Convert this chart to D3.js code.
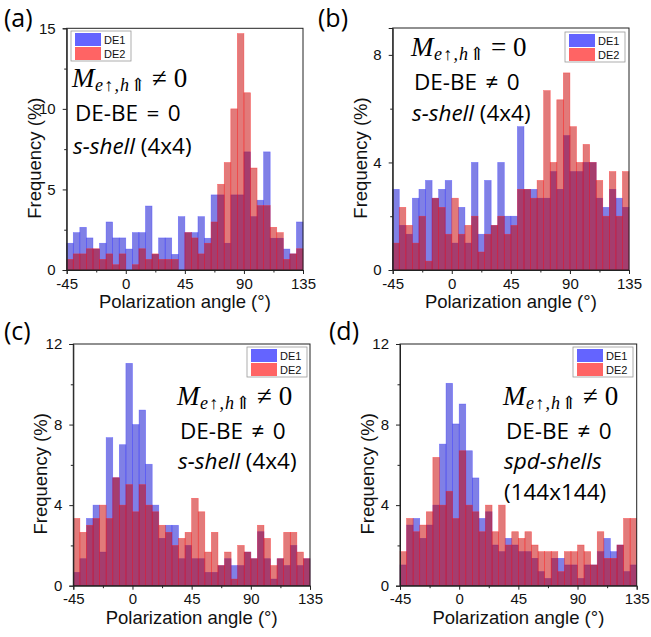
<!DOCTYPE html>
<html>
<head>
<meta charset="utf-8">
<script src="https://cdn.jsdelivr.net/npm/d3@7"></script>
<style>
  body { margin: 0; background: #fff; }
</style>
</head>
<body>
<svg id="fig" width="651" height="637"></svg>
<script>
// bin edges of the polarization angle histograms (deg)
const binEdges = [-45, -40, -35, -30, -25, -20, -15, -10, -5, 0, 5, 10, 15, 20, 25, 30, 35, 40,
  45, 50, 55, 60, 65, 70, 75, 80, 85, 90, 95, 100, 105, 110, 115, 120, 125, 130, 135];
const xTicks = [-45, 0, 45, 90, 135];
const xMinorTicks = [-22.5, 22.5, 67.5, 112.5];
const seriesNames = ["DE1", "DE2"];

// frequency (%) per bin
const aDE1 = [1.66, 2.32, 2.65, 1.99, 1.3, 1.66, 2.98, 1.99, 1.99, 1.3, 2.32, 2.32, 3.97, 0.97, 1.99, 1.99, 0.97, 3.31,
  2.32, 2.32, 3.31, 1.97, 4.66, 4.66, 1.66, 4.66, 4.66, 7.33, 3.31, 4.33, 7.33, 1.97, 1.97, 1.3, 1.0, 2.98];
const aDE2 = [0.66, 1.0, 1.0, 1.32, 1.32, 0.66, 1.0, 0.33, 1.0, 0, 0.33, 1.32, 0.66, 1.0, 0.66, 0.66, 0.66, 0,
  2.32, 1.99, 1.0, 1.66, 2.98, 5.32, 6.67, 10.0, 14.67, 11.0, 6.33, 4.0, 4.0, 2.65, 2.32, 0.66, 1.0, 1.32];

const bDE1 = [3.0, 1.66, 1.33, 2.67, 3.0, 3.33, 2.67, 3.0, 3.33, 1.0, 2.33, 1.0, 4.0, 1.33, 3.33, 1.66, 4.0, 2.0,
  2.0, 5.33, 3.0, 3.0, 2.67, 2.67, 3.66, 3.0, 5.0, 3.66, 3.66, 4.0, 4.0, 2.67, 2.33, 3.0, 2.67, 2.33];
const bDE2 = [1.0, 2.33, 1.66, 1.0, 2.0, 0.33, 2.67, 2.33, 1.33, 2.67, 1.33, 1.66, 2.0, 0.67, 1.33, 1.66, 2.0, 1.33,
  1.66, 3.0, 3.0, 2.67, 3.33, 6.67, 4.0, 6.33, 7.33, 5.33, 4.0, 4.67, 4.0, 3.33, 2.0, 3.66, 2.0, 3.66];

const cDE1 = [0.66, 1.34, 3.34, 4.0, 1.67, 7.35, 5.36, 7.0, 11.04, 8.0, 8.72, 6.03, 4.0, 2.35, 3.0, 3.0, 1.34, 2.0,
  1.34, 1.34, 0.66, 0.66, 1.0, 1.34, 1.0, 1.0, 1.67, 1.34, 2.68, 1.34, 0.33, 1.34, 1.0, 2.0, 1.0, 1.34];
const cDE2 = [3.34, 2.65, 3.0, 3.34, 4.0, 3.34, 5.36, 4.0, 5.02, 3.67, 5.02, 4.0, 3.67, 3.0, 2.65, 2.0, 2.35, 2.65,
  4.34, 3.67, 1.67, 2.65, 1.0, 1.67, 0.33, 2.0, 1.67, 1.34, 3.0, 2.35, 1.0, 1.34, 2.65, 2.65, 1.67, 1.34];

const dDE1 = [1.03, 3.01, 3.34, 2.35, 3.01, 4.0, 7.03, 10.05, 8.03, 9.02, 6.7, 5.35, 3.34, 3.67, 2.02, 1.69, 2.35, 2.02,
  1.69, 1.69, 1.36, 0.7, 0.36, 1.36, 1.36, 1.03, 1.03, 0.36, 1.03, 1.03, 1.69, 2.35, 1.69, 2.02, 0.7, 1.03];
const dDE2 = [1.69, 3.34, 2.68, 3.01, 3.67, 6.37, 4.0, 4.69, 3.34, 6.7, 4.0, 3.67, 2.68, 4.0, 2.68, 4.0, 2.02, 2.68,
  2.35, 2.68, 2.02, 1.69, 1.69, 1.69, 0.7, 1.69, 1.69, 2.02, 1.69, 1.03, 2.68, 1.36, 1.36, 2.02, 3.34, 3.34];

const panels = [
  { tag: "(a)", de1: aDE1, de2: aDE2, yMax: 15, yTicks: [0, 5, 10, 15], yMinor: [2.5, 7.5, 12.5],
    box: { l: 66.7, r: 303, t: 28.3, b: 270 }, tagPos: [4, 27], legend: [71, 31],
    note: { x: 72, ys: [87, 121, 154], rel: "\u2260", be: "=", lines: [["s-shell", " (4x4)"]] } },
  { tag: "(b)", de1: bDE1, de2: bDE2, yMax: 9, yTicks: [0, 4, 8], yMinor: [2, 6],
    box: { l: 392.7, r: 629, t: 28, b: 270 }, tagPos: [318, 27], legend: [565, 32],
    note: { x: 411, ys: [56, 90, 121], rel: "=", be: "\u2260", lines: [["s-shell", " (4x4)"]] } },
  { tag: "(c)", de1: cDE1, de2: cDE2, yMax: 12, yTicks: [0, 4, 8, 12], yMinor: [2, 6, 10],
    box: { l: 73.3, r: 310, t: 344, b: 585.7 }, tagPos: [4, 340], legend: [247, 347],
    note: { x: 177, ys: [405, 439, 469], rel: "\u2260", be: "\u2260", lines: [["s-shell", " (4x4)"]] } },
  { tag: "(d)", de1: dDE1, de2: dDE2, yMax: 12, yTicks: [0, 4, 8, 12], yMinor: [2, 6, 10],
    box: { l: 400, r: 636.7, t: 344, b: 585.7 }, tagPos: [329, 340], legend: [573, 347],
    note: { x: 503, ys: [405, 439, 469, 500], rel: "\u2260", be: "\u2260", lines: [["spd-shells", ""], ["", "(144x144)"]] } }
];

const style = {
  de1: { fill: "#2b2bd5", op: 0.6, stroke: "#3a3aff", swatch: "#6464ff" },
  de2: { fill: "#c80000", op: 0.52, stroke: "#ff2020", swatch: "#ff6464" }
};
const sans = "'Liberation Sans', Arial, sans-serif";
const calibri = "'Open Sans', 'Noto Sans', sans-serif";
const serif = "'Liberation Serif', 'DejaVu Serif', serif";

const svg = d3.select("#fig");

panels.forEach(p => {
  const g = svg.append("g");
  const x = d3.scaleLinear().domain([-45, 135]).range([p.box.l, p.box.r]);
  const y = d3.scaleLinear().domain([0, p.yMax]).range([p.box.b, p.box.t]);

  [["de1", p.de1], ["de2", p.de2]].forEach(([key, vals]) => {
    g.append("g").selectAll("rect")
      .data(vals)
      .enter().append("rect")
      .attr("x", (d, i) => x(binEdges[i]))
      .attr("width", (d, i) => x(binEdges[i + 1]) - x(binEdges[i]))
      .attr("y", d => y(d))
      .attr("height", d => y(0) - y(d))
      .attr("fill", style[key].fill)
      .attr("fill-opacity", style[key].op)
      .attr("stroke", style[key].stroke)
      .attr("stroke-opacity", 0.55)
      .attr("stroke-width", 0.6);
  });

  // frame
  g.append("rect")
    .attr("x", p.box.l).attr("y", p.box.t)
    .attr("width", p.box.r - p.box.l).attr("height", p.box.b - p.box.t)
    .attr("fill", "none").attr("stroke", "#222").attr("stroke-width", 1);

  // axes
  const xAxis = g.append("g").attr("transform", `translate(0,${p.box.b})`)
    .call(d3.axisBottom(x).tickValues(xTicks).tickSize(4).tickPadding(4).tickFormat(d3.format("d")));
  g.append("g").attr("transform", `translate(0,${p.box.b})`)
    .call(d3.axisBottom(x).tickValues(xMinorTicks).tickSize(2.5).tickFormat(""))
    .select(".domain").remove();
  const yAxis = g.append("g").attr("transform", `translate(${p.box.l},0)`)
    .call(d3.axisLeft(y).tickValues(p.yTicks).tickSize(4).tickPadding(7));
  g.append("g").attr("transform", `translate(${p.box.l},0)`)
    .call(d3.axisLeft(y).tickValues(p.yMinor).tickSize(2.5).tickFormat(""))
    .select(".domain").remove();

  g.selectAll(".domain").attr("stroke", "#222");
  g.selectAll(".tick line").attr("stroke", "#222");
  [xAxis, yAxis].forEach(a => a.selectAll("text")
    .attr("font-family", sans).attr("font-size", 15).attr("fill", "#111"));
  xAxis.selectAll("text").text(d => d3.format("d")(d).replace("\u2212", "-"));

  // axis titles
  g.append("text")
    .attr("x", (p.box.l + p.box.r) / 2).attr("y", p.box.b + 38)
    .attr("text-anchor", "middle")
    .attr("font-family", sans).attr("font-size", 18.5).attr("fill", "#111")
    .text("Polarization angle (\u00b0)");
  g.append("text")
    .attr("transform", `translate(${p.box.l - 26},${(p.box.t + p.box.b) / 2 + 9}) rotate(-90)`)
    .attr("text-anchor", "middle")
    .attr("font-family", sans).attr("font-size", 18.5).attr("fill", "#111")
    .text("Frequency (%)");

  // panel tag
  g.append("text")
    .attr("x", p.tagPos[0]).attr("y", p.tagPos[1])
    .attr("font-family", calibri).attr("font-size", 25).attr("fill", "#000")
    .text(p.tag);

  // legend
  const lg = g.append("g").attr("transform", `translate(${p.legend[0]},${p.legend[1]})`);
  lg.append("rect").attr("width", 60).attr("height", 30)
    .attr("fill", "#fff").attr("stroke", "#999").attr("stroke-width", 0.8);
  seriesNames.forEach((name, i) => {
    const key = i === 0 ? "de1" : "de2";
    lg.append("rect").attr("x", 4).attr("y", 2 + i * 14).attr("width", 26).attr("height", 13)
      .attr("fill", style[key].swatch);
    lg.append("text").attr("x", 33).attr("y", 12.5 + i * 14)
      .attr("font-family", sans).attr("font-size", 11).attr("fill", "#111")
      .text(name);
  });

  // annotation: M_{e↑,h⇑} rel 0 / DE-BE rel 0 / basis
  const n = p.note;
  const tM = g.append("text").attr("x", n.x).attr("y", n.ys[0])
    .attr("font-family", serif).attr("font-size", 27).attr("font-style", "italic").attr("fill", "#000")
    .text("M");
  const wM = tM.node().getComputedTextLength();
  const tSub = g.append("text").attr("x", n.x + wM + 0.5).attr("y", n.ys[0] + 4)
    .attr("font-family", serif).attr("font-size", 18).attr("font-style", "italic")
    .attr("letter-spacing", 1.2).attr("fill", "#000")
    .text("e\u2191,h\u21d1");
  const wSub = tSub.node().getComputedTextLength();
  g.append("text").attr("x", Math.max(n.x + 77, n.x + wM + wSub + 6)).attr("y", n.ys[0])
    .attr("font-family", serif).attr("font-size", 27).attr("fill", "#000")
    .text(`${n.rel} 0`);

  g.append("text").attr("x", n.x + 3).attr("y", n.ys[1])
    .attr("font-family", calibri).attr("font-size", 22.5).attr("word-spacing", 2.5).attr("fill", "#000")
    .text(`DE-BE ${n.be} 0`);

  n.lines.forEach((ln, i) => {
    const t = g.append("text").attr("x", n.x + 1).attr("y", n.ys[2 + i])
      .attr("font-family", calibri).attr("font-size", 22.5).attr("fill", "#000");
    if (ln[0]) t.append("tspan").attr("font-style", "italic").text(ln[0]);
    if (ln[1]) t.append("tspan").text(ln[1]);
  });
});
</script>
</body>
</html>
